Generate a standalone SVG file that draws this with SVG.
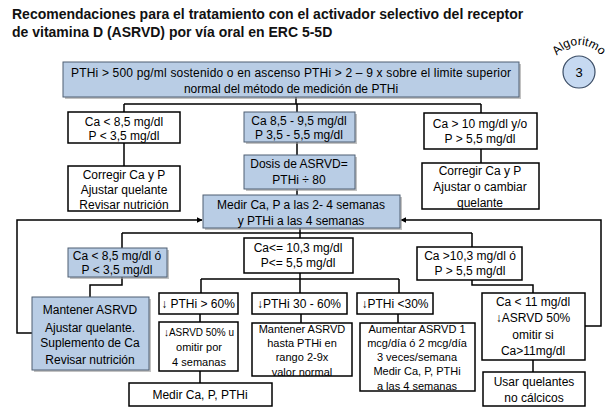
<svg xmlns="http://www.w3.org/2000/svg" width="616" height="420" viewBox="0 0 616 420">
<defs>
<style>
.t{font-family:"Liberation Sans",Arial,sans-serif;font-size:12px;fill:#000;text-anchor:middle}
.s{font-size:11px}
.title{font-family:"Liberation Sans",Arial,sans-serif;font-size:14px;font-weight:bold;fill:#111}
.w{fill:#fff;stroke:#000;stroke-width:1.5}
.b{fill:#b9cde5;stroke:#4f5f73;stroke-width:1}
.sh{fill:#9a9a9a;opacity:0.6}
.c{fill:none;stroke:#000;stroke-width:1.5}
</style>
<marker id="ar" viewBox="0 0 10 10" refX="9" refY="5" markerWidth="6" markerHeight="6" orient="auto" markerUnits="userSpaceOnUse">
<path d="M0,0 L10,5 L0,10 z" fill="#000"/>
</marker>
<path id="arc" d="M 551,73 A 28 28 0 0 1 607,73" fill="none"/>
</defs>
<rect width="616" height="420" fill="#fff"/>
<text class="title" x="12" y="19">Recomendaciones para el tratamiento con el activador selectivo del receptor</text>
<text class="title" x="12" y="37">de vitamina D (ASRVD) por vía oral en ERC 5-5D</text>

<g id="algoritmo">
<text style="font-family:'Liberation Sans',Arial,sans-serif;font-size:12px;fill:#000" text-anchor="middle"><textPath href="#arc" startOffset="50%">Algoritmo</textPath></text>
<ellipse cx="579" cy="72" rx="16" ry="16" fill="#c6d9f1" stroke="#3b4d66" stroke-width="1.2"/>
<text class="t" x="579" y="77" style="font-size:13px">3</text>
</g>

<g id="connectors">
<path class="c" d="M296,97 V104 M124,104 H481 M124,104 V112 M297,104 V112 M481,104 V113"/>
<path class="c" d="M124,143 V166 M297,142 V155 M297,189 V195 M481,149 V163"/>
<path class="c" d="M300,228 V238 M122,233 H472 M122,233 V248 M472,233 V247"/>
<path class="c" d="M122,277 V285 H90 V297"/>
<path class="c" d="M300,273 V279 M201,279 H399 M201,279 V293 M300,279 V293 M399,279 V293"/>
<path class="c" d="M200,314 V322 M301,314 V323 M398,314 V323 M200,371 V383"/>
<path class="c" d="M472,280 V285 H533 V293 M533,360 V372"/>
<path class="c" d="M32,333 H17 V220 H202" marker-end="url(#ar)"/>
<path class="c" d="M585,326 H601 V220 H401" marker-end="url(#ar)"/>
</g>

<g id="n-top">
<rect class="sh" x="65" y="64" width="456" height="35"/>
<rect class="b" x="63" y="62" width="456" height="35"/>
<text class="t" x="291" y="77" textLength="440" lengthAdjust="spacing">PTHi &gt; 500 pg/ml sostenido o en ascenso PTHi &gt; 2 – 9 x sobre el limite superior</text>
<text class="t" x="291" y="93">normal del método de medición de PTHi</text>
</g>

<g id="n-l1">
<rect class="w" x="68" y="112" width="112" height="31"/>
<text class="t" x="124" y="126">Ca &lt; 8,5 mg/dl</text>
<text class="t" x="124" y="140">P &lt; 3,5 mg/dl</text>
</g>
<g id="n-l2">
<rect class="w" x="68" y="166" width="112" height="45"/>
<text class="t" x="124" y="179">Corregir Ca y P</text>
<text class="t" x="124" y="194">Ajustar quelante</text>
<text class="t" x="124" y="209">Revisar nutrición</text>
</g>

<g id="n-m1">
<rect class="sh" x="246" y="114" width="111" height="30"/>
<rect class="b" x="244" y="112" width="111" height="30"/>
<text class="t" x="299" y="125">Ca 8,5 - 9,5 mg/dl</text>
<text class="t" x="299" y="139">P 3,5 - 5,5 mg/dl</text>
</g>
<g id="n-m2">
<rect class="sh" x="246" y="157" width="111" height="34"/>
<rect class="b" x="244" y="155" width="111" height="34"/>
<text class="t" x="299" y="168">Dosis de ASRVD=</text>
<text class="t" x="299" y="184">PTHi ÷ 80</text>
</g>
<g id="n-m3">
<rect class="sh" x="205" y="197" width="197" height="33"/>
<rect class="b" x="203" y="195" width="197" height="33"/>
<text class="t" x="301" y="209">Medir Ca, P a las 2- 4 semanas</text>
<text class="t" x="301" y="225">y PTHi a las 4 semanas</text>
</g>

<g id="n-r1">
<rect class="w" x="424" y="113" width="113" height="36"/>
<text class="t" x="480" y="128">Ca &gt; 10 mg/dl y/o</text>
<text class="t" x="480" y="143">P &gt; 5,5 mg/dl</text>
</g>
<g id="n-r2">
<rect class="w" x="422" y="163" width="117" height="46"/>
<text class="t" x="480" y="175">Corregir Ca y P</text>
<text class="t" x="480" y="191">Ajustar o cambiar</text>
<text class="t" x="480" y="207">quelante</text>
</g>

<g id="n-ll1">
<rect class="sh" x="70" y="250" width="99" height="29"/>
<rect class="b" x="68" y="248" width="99" height="29"/>
<text class="t" x="117" y="260">Ca &lt; 8,5 mg/dl ó</text>
<text class="t" x="117" y="274">P &lt; 3,5 mg/dl</text>
</g>
<g id="n-ll2">
<rect class="sh" x="34" y="299" width="117" height="73"/>
<rect class="b" x="32" y="297" width="117" height="73"/>
<text class="t" x="90" y="314">Mantener ASRVD</text>
<text class="t" x="90" y="332">Ajustar quelante.</text>
<text class="t" x="90" y="347">Suplemento de Ca</text>
<text class="t" x="90" y="364">Revisar nutrición</text>
</g>

<g id="n-c1">
<rect class="w" x="244" y="238" width="109" height="35"/>
<text class="t" x="298" y="252">Ca&lt;= 10,3 mg/dl</text>
<text class="t" x="298" y="267">P&lt;= 5,5 mg/dl</text>
</g>
<g id="n-c2a">
<rect class="w" x="159" y="293" width="79" height="21"/>
<text class="t" x="198" y="308">↓ PTHi &gt; 60%</text>
</g>
<g id="n-c2b">
<rect class="w" x="252" y="293" width="95" height="21"/>
<text class="t" x="299" y="308">↓PTHi 30 - 60%</text>
</g>
<g id="n-c2c">
<rect class="w" x="357" y="293" width="76" height="21"/>
<text class="t" x="395" y="308">↓PTHi &lt;30%</text>
</g>
<g id="n-c3a">
<rect class="w" x="159" y="322" width="79" height="49"/>
<text class="t s" x="199" y="336" textLength="70" lengthAdjust="spacingAndGlyphs">↓ASRVD 50% u</text>
<text class="t s" x="199" y="351">omitir por</text>
<text class="t s" x="199" y="366">4 semanas</text>
</g>
<g id="n-c3b">
<rect class="w" x="252" y="323" width="100" height="53"/>
<text class="t s" x="302" y="333">Mantener ASRVD</text>
<text class="t s" x="302" y="347">hasta PTHi en</text>
<text class="t s" x="302" y="361">rango 2-9x</text>
<text class="t s" x="302" y="376">valor normal</text>
</g>
<g id="n-c3c">
<rect class="w" x="360" y="323" width="115" height="68"/>
<text class="t s" x="417" y="333">Aumentar ASRVD 1</text>
<text class="t s" x="417" y="347">mcg/día ó 2 mcg/día</text>
<text class="t s" x="417" y="361">3 veces/semana</text>
<text class="t s" x="417" y="375">Medir Ca, P, PTHi</text>
<text class="t s" x="417" y="390">a las 4 semanas</text>
</g>
<g id="n-d">
<rect class="w" x="129" y="383" width="143" height="23"/>
<text class="t" x="200" y="399">Medir Ca, P, PTHi</text>
</g>

<g id="n-cr1">
<rect class="w" x="417" y="247" width="105" height="33"/>
<text class="t" x="470" y="260">Ca &gt;10,3 mg/dl ó</text>
<text class="t" x="470" y="275">P &gt; 5,5 mg/dl</text>
</g>
<g id="n-cr2">
<rect class="w" x="482" y="293" width="103" height="67"/>
<text class="t" x="533" y="306">Ca &lt; 11 mg/dl</text>
<text class="t" x="533" y="322">↓ASRVD 50%</text>
<text class="t" x="533" y="339">omitir si</text>
<text class="t" x="533" y="355">Ca&gt;11mg/dl</text>
</g>
<g id="n-cr3">
<rect class="w" x="483" y="372" width="102" height="34"/>
<text class="t" x="534" y="386">Usar quelantes</text>
<text class="t" x="534" y="402">no cálcicos</text>
</g>
</svg>
